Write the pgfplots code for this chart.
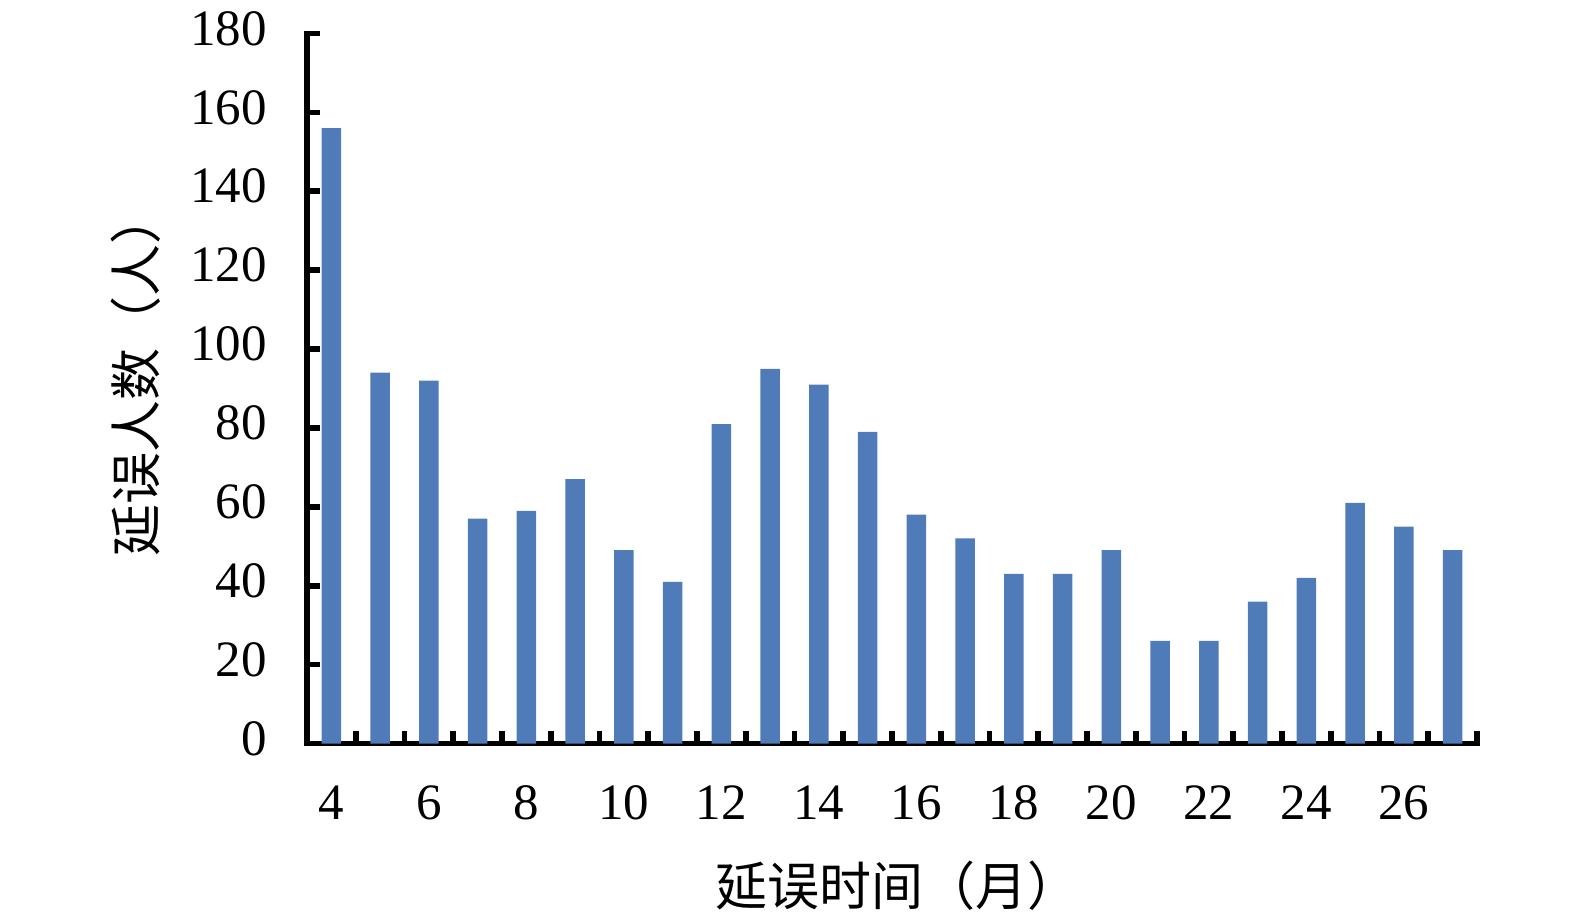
\documentclass[border=0pt]{standalone}
\usepackage{fontspec}
\setmainfont{Liberation Serif}
\newfontfamily\cjk{Noto Sans CJK SC}
\usepackage{pgfplots}
\pgfplotsset{compat=1.18}
\definecolor{barblue}{HTML}{4F7CB8}
\begin{document}
\begin{tikzpicture}
\begin{axis}[
  scale only axis,
  width=585pt, height=355pt,
  xmin=3.5, xmax=27.5, ymin=0, ymax=180,
  axis x line*=bottom, axis y line*=left,
  axis line style={-, line width=2.8pt, black, line cap=rect},
  tick align=inside, xtick align=inside, ytick align=inside,
  xtick={4.5,5.5,...,27.5},
  xticklabels={},
  extra x ticks={4,6,...,26},
  extra x tick style={major tick length=0pt, tick style={draw=none}},
  ytick={0,20,...,180},
  major tick length=6.5pt,
  tick style={line width=2.8pt, black},
  major x tick style={yshift=6.5pt},
  /pgf/number format/assume math mode=true,
  tick label style={font=\fontsize{25.5}{30}\selectfont, inner sep=0pt},
  xticklabel style={anchor=center, yshift=-29.5pt},
  yticklabel style={anchor=east, xshift=-20pt, yshift=2.5pt},
  xlabel={\cjk 延误时间（月）},
  ylabel={\cjk 延误人数（人）},
  label style={font=\fontsize{26}{30}\selectfont},
  xlabel style={at={(axis description cs:0.505,-0.2)}, anchor=center},
  ylabel style={at={(axis description cs:-0.146,0.52)}, anchor=center},
  ybar, bar width=9.8pt,
  clip=false,
]
\coordinate (bl) at (rel axis cs:0,0);
\addplot[fill=barblue, draw=none] coordinates {
 (4,156) (5,94) (6,92) (7,57) (8,59) (9,67) (10,49) (11,41)
 (12,81) (13,95) (14,91) (15,79) (16,58) (17,52) (18,43) (19,43)
 (20,49) (21,26) (22,26) (23,36) (24,42) (25,61) (26,55) (27,49)
};
\end{axis}
\pgfresetboundingbox
\path[use as bounding box] (bl) ++(-153.5pt,-89.25pt) rectangle ++(787.5pt,461pt);
\end{tikzpicture}
\end{document}
